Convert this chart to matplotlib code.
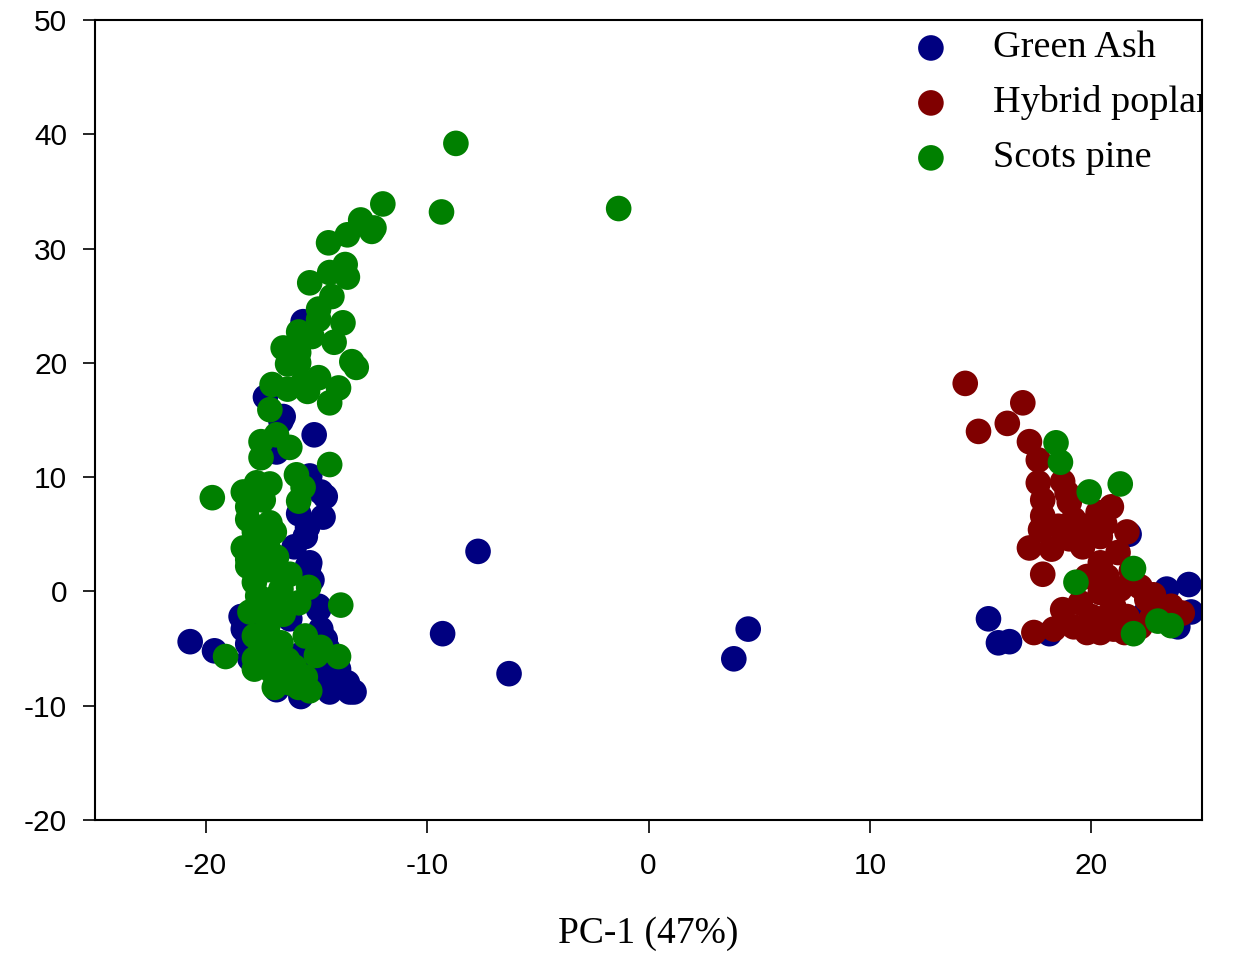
import matplotlib
import matplotlib.pyplot as plt

matplotlib.use('Agg')
"""
PCA score plot, PC-1 vs PC-2, three wood species.
"""
matplotlib.rcParams.update({'font.family': 'Liberation Sans', 'font.size': 21,
                            'axes.unicode_minus': False})

# Green Ash scores (PC-1, PC-2)
ash_x = [-20.7, -19.6, -9.3, -7.7, -6.3, 3.85, 4.5, -15.6, -17.3, -16.5, -15.1, -16.8,
         -15.3, -14.8, -14.7, -15.4, -16.0, -15.35, -14.9, -14.8, -18.1, -18.0, -13.9,
         -13.5, -14.4, -15.7, -16.2, -16.6, -15.3, -15.4, -14.9, -18.4, -14.4, -13.6,
         -13.3, -18.3, -18.1, -16.8, -14.6, -15.7, -15.3,
         -14.5, -14.0, -15.0, -14.7, -15.3, -15.5, -15.8, -14.6, -15.2,
         24.4, 24.5, 23.4, 23.9, 15.35, 15.8, 16.3, 21.7, 18.1, 22.4, 23.1]
ash_y = [-4.4, -5.2, -3.7, 3.5, -7.2, -5.9, -3.3, 23.6, 17.0, 15.3, 13.7, 12.2,
         10.1, 8.7, 6.5, 5.6, 3.9, 2.1, -1.6, -3.3, -2.0, -5.9, -7.7,
         -8.8, -8.8, -9.2, -2.4, 14.9, 2.5, 2.2, -1.3, -2.2, -6.6, -8.0,
         -8.8, -3.3, -4.6, -8.6, -4.2, -5.5, -7.3,
         -5.0, -6.8, -6.0, -7.9, -8.5, 4.8, 6.8, 8.3, 1.0,
         0.6, -1.8, 0.2, -3.1, -2.4, -4.5, -4.4, 5.0, -3.7, -2.0, -0.7]

# Hybrid poplar scores
poplar_x = [14.3, 16.9, 14.9, 16.2, 17.2, 17.6, 17.6, 18.7, 17.8, 19.0, 17.8, 17.7, 18.5,
            19.2, 19.8, 20.4, 20.9, 20.3, 21.6, 17.2, 18.2, 19.6, 17.8, 20.4, 21.2, 19.8,
            20.7, 20.4, 21.3, 22.2, 22.5, 21.0, 18.7, 20.0, 21.6, 23.6, 17.4, 18.3, 19.2,
            19.8, 20.4, 21.0, 22.2, 23.1, 18.9, 20.6, 21.8, 22.8, 19.5, 21.5, 22.7, 20.8,
            19.0, 24.1]
poplar_y = [18.2, 16.5, 14.0, 14.7, 13.1, 11.5, 9.5, 9.6, 8.0, 7.8, 6.6, 5.4, 5.7,
            6.3, 5.7, 4.8, 7.4, 6.9, 5.2, 3.8, 3.7, 3.9, 1.5, 2.5, 3.4, 1.3,
            1.3, -0.1, 0.2, 0.4, -0.7, -1.3, -1.6, -2.2, -2.2, -1.3, -3.6, -3.3, -3.1,
            -3.6, -3.6, -3.3, -3.1, -1.8, 8.6, 5.9, 1.8, -0.3, -1.0, -3.6, -2.4, -2.0,
            4.6, -1.9]

# Scots pine scores
pine_x = [-8.7, -9.35, -1.35, -12.0, -12.4, -13.0,
          -14.45, -13.6, -12.5, -13.7, -14.4, -13.6, -15.3, -14.3, -14.9, -13.8, -14.9,
          -15.8, -15.2, -14.2, -16.5, -15.8, -13.4, -13.2, -16.3, -15.8, -14.9, -15.6,
          -14.0, -17.0, -16.3, -15.4, -14.4, -17.1,
          -17.5, -16.8, -16.2, -17.5, -14.4, -15.9, -15.6, -15.8, -17.7, -17.1, -18.3,
          -19.7, -18.1, -17.4, -18.1, -17.1, -17.8, -16.9, -18.3, -17.2, -18.1, -17.1,
          -18.1, -17.2, -15.35, -15.8, -13.9, -17.65, -18.0, -17.1, -15.5, -14.8, -14.0,
          -19.1, -17.8, -17.8, -16.9, -17.8, -16.7, -16.0, -16.9, -15.8, -15.3, -17.2,
          -16.6,
          -17.5, -16.8, -17.8, -16.6, -17.3, -16.5, -17.5, -16.3, -17.0, -16.2, -15.5,
          -15.0, -16.9, -16.2, -17.6,
          18.4, 18.6, 19.9, 21.3, 21.9, 19.3, 21.9, 23.0, 23.6]
pine_y = [39.2, 33.2, 33.5, 33.9, 31.8, 32.5,
          30.5, 31.2, 31.5, 28.6, 27.9, 27.5, 27.0, 25.8, 24.7, 23.5, 23.8,
          22.7, 22.3, 21.8, 21.3, 20.9, 20.1, 19.6, 19.9, 20.0, 18.7, 18.3,
          17.8, 18.1, 17.7, 17.5, 16.5, 15.9,
          13.1, 13.7, 12.6, 11.7, 11.1, 10.2, 9.1, 7.9, 9.5, 9.4, 8.7,
          8.2, 7.4, 8.0, 6.3, 6.0, 5.2, 5.2, 3.8, 3.9, 2.8, 2.8,
          2.2, 1.9, 0.35, -1.0, -1.2, -0.4, -1.8, -2.2, -3.9, -4.9, -5.7,
          -5.7, -3.9, -5.9, -5.3, -6.8, -7.4, -6.6, -8.4, -8.4, -8.7, -3.1,
          -4.5,
          4.5, 3.0, 0.8, 0.2, -1.0, -2.0, -5.0, -6.0, -7.0, -8.0, -7.5,
          -5.6, -0.6, 1.5, -6.0,
          13.0, 11.3, 8.7, 9.4, 2.0, 0.8, -3.7, -2.6, -3.0]

labels = ['Green Ash', 'Hybrid poplar', 'Scots pine']
colors = ['#000080', '#800000', '#008000']

fig = plt.figure(figsize=(12.33, 9.55), dpi=100)
ax = fig.add_axes([0.077, 0.1414, 0.898, 0.8377])

groups = [(ash_x, ash_y), (poplar_x, poplar_y), (pine_x, pine_y)]
for (gx, gy), c in zip(groups, colors):
    ax.scatter(gx, gy, s=340, color=c, edgecolors='none', zorder=2)

ax.set_xlim(-25, 25)
ax.set_ylim(-20, 50)
ax.set_xticks([-20, -10, 0, 10, 20])
ax.set_yticks([-20, -10, 0, 10, 20, 30, 40, 50])
ax.tick_params(direction='out', length=9, width=1.2, labelsize=21.5)
ax.tick_params(axis='x', pad=14)
ax.tick_params(axis='y', pad=11)
for sp in ax.spines.values():
    sp.set_linewidth(1.5)

ax.set_xlabel('PC-1 (47%)', family='Liberation Serif', fontsize=27, labelpad=26)

# legend drawn by hand so the long label gets clipped by the frame like the original
for i, (lab, c) in enumerate(zip(labels, colors)):
    yy = 0.965 - i * 0.0687
    ax.scatter([0.755], [yy], s=340, color=c, edgecolors='none',
               transform=ax.transAxes, zorder=3, clip_on=False)
    ax.text(0.811, yy, lab, transform=ax.transAxes, family='Liberation Serif',
            fontsize=27.5, va='center', ha='left', clip_on=True)

plt.savefig('out.png', dpi=100)
